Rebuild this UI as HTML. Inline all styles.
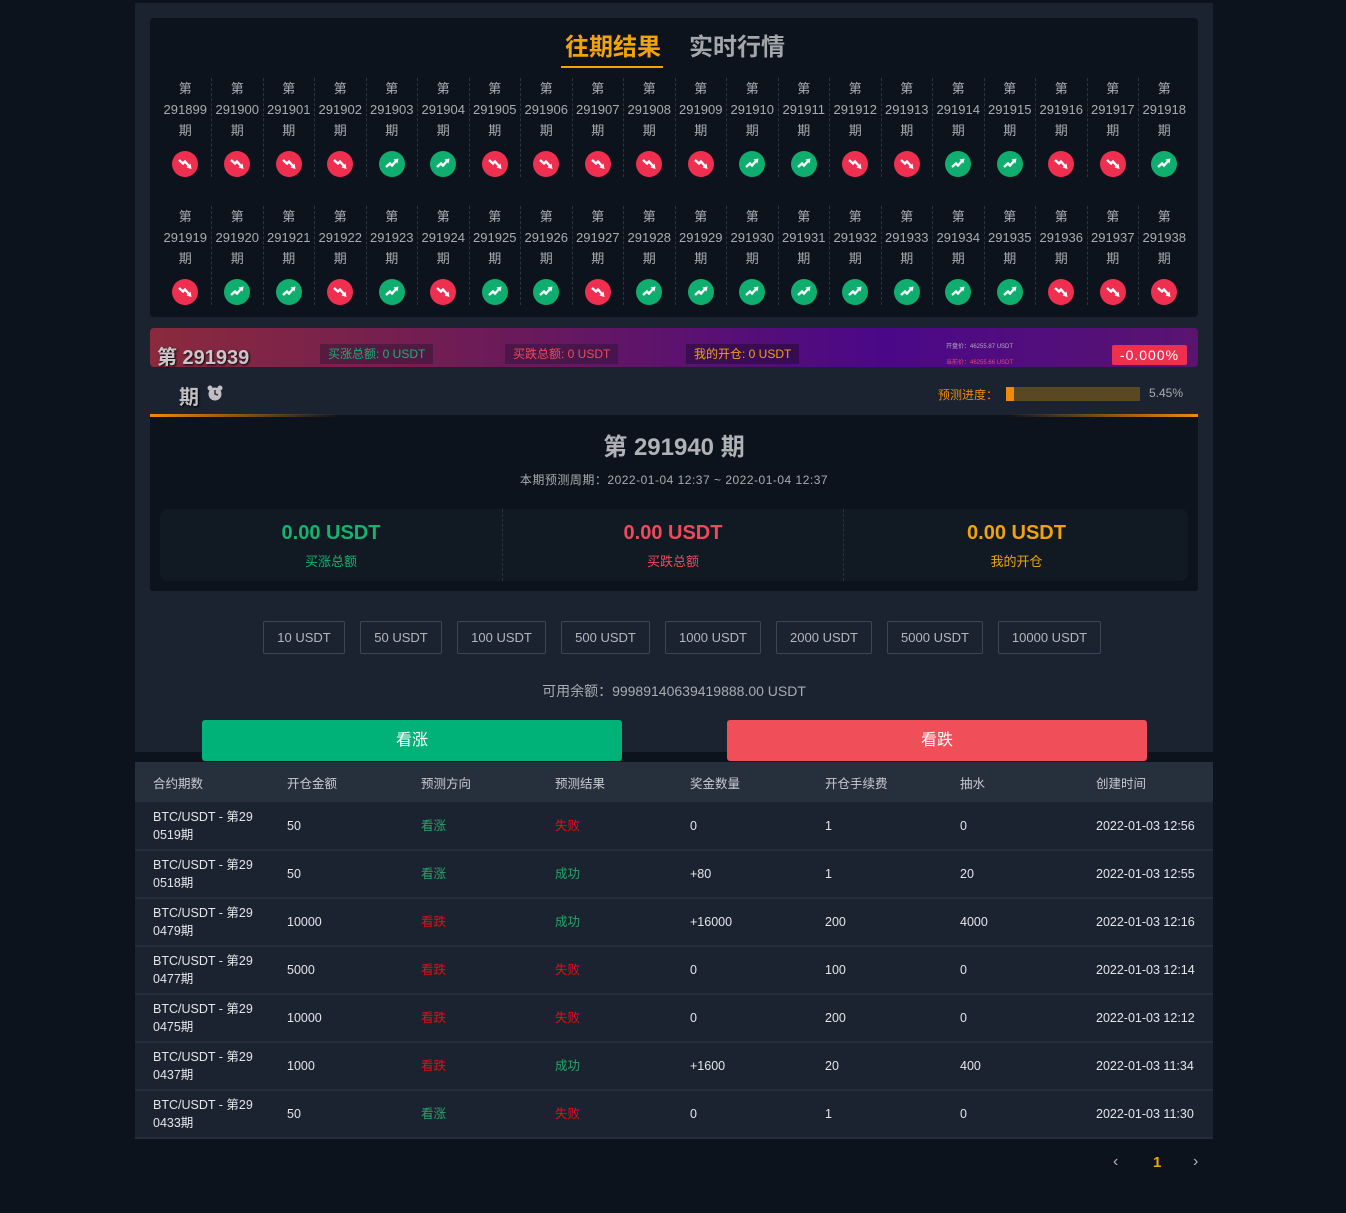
<!DOCTYPE html>
<html><head><meta charset="utf-8">
<style>
*{margin:0;padding:0;box-sizing:border-box}
body{width:1346px;height:1213px;background:#0c131d;font-family:"Liberation Sans","Noto Sans CJK SC",sans-serif;position:relative;overflow:hidden;color:#ccc}
.a{position:absolute}
#wrap{left:135px;top:3px;width:1078px;height:749px;background:#1b2330}
#top{left:150px;top:18px;width:1048px;height:299px;background:#0c131d;border-radius:4px}
.row{position:absolute;left:159.5px;display:flex}
.col{width:51.5px;text-align:center;font-size:13px;line-height:21px;color:#a8acb2;position:relative}
.col+.col{border-left:1px dashed #2d3540}
.col .ic{display:block;margin:10px auto 0;width:26px;height:26px}
.btn{position:absolute;top:621px;height:33px;border:1px solid #3c4656;border-radius:2px;color:#b4b8be;font-size:13px;line-height:31px;text-align:center}
table{position:absolute;left:135px;top:762px;width:1078px;border-collapse:collapse;font-size:12.5px;color:#e4e6ea}
th{height:40px;background:#262f3c;font-weight:normal;text-align:left;color:#c8ccd2;padding-left:18px}
td{height:48px;background:#1b2330;border-bottom:2px solid #242d39;padding-left:18px;line-height:18px}
.g{color:#26a66a}.r{color:#e0101a}
</style></head><body>
<svg width="0" height="0" style="position:absolute">
<symbol id="dn" viewBox="0 0 26 26"><circle cx="13" cy="13" r="13" fill="#ef2f4f"/><polyline points="7,9 11,12.5 13,10.5 17,15" fill="none" stroke="#fff" stroke-width="2.4"/><polygon points="14.5,16.5 19.5,18 18.5,12.5" fill="#fff"/></symbol>
<symbol id="up" viewBox="0 0 26 26"><circle cx="13" cy="13" r="13" fill="#0fae6e"/><polyline points="7,16 11,12.5 13,14.5 17,10" fill="none" stroke="#fff" stroke-width="2.4"/><polygon points="14.5,8.5 19.5,7.5 18.5,12.5" fill="#fff"/></symbol>
</svg>
<div id="wrap" class="a"></div>
<div id="top" class="a"></div>
<div class="a" style="left:565px;top:27px;font-size:24px;font-weight:bold;color:#f0a30a">往期结果</div>
<div class="a" style="left:561px;top:66px;width:102px;height:2px;background:#f0a30a"></div>
<div class="a" style="left:689px;top:27px;font-size:24px;font-weight:bold;color:#a4a6aa">实时行情</div>

<div class="row" style="top:78px">
<div class="col">第<br>291899<br>期<svg class="ic"><use href="#dn"/></svg></div>
<div class="col">第<br>291900<br>期<svg class="ic"><use href="#dn"/></svg></div>
<div class="col">第<br>291901<br>期<svg class="ic"><use href="#dn"/></svg></div>
<div class="col">第<br>291902<br>期<svg class="ic"><use href="#dn"/></svg></div>
<div class="col">第<br>291903<br>期<svg class="ic"><use href="#up"/></svg></div>
<div class="col">第<br>291904<br>期<svg class="ic"><use href="#up"/></svg></div>
<div class="col">第<br>291905<br>期<svg class="ic"><use href="#dn"/></svg></div>
<div class="col">第<br>291906<br>期<svg class="ic"><use href="#dn"/></svg></div>
<div class="col">第<br>291907<br>期<svg class="ic"><use href="#dn"/></svg></div>
<div class="col">第<br>291908<br>期<svg class="ic"><use href="#dn"/></svg></div>
<div class="col">第<br>291909<br>期<svg class="ic"><use href="#dn"/></svg></div>
<div class="col">第<br>291910<br>期<svg class="ic"><use href="#up"/></svg></div>
<div class="col">第<br>291911<br>期<svg class="ic"><use href="#up"/></svg></div>
<div class="col">第<br>291912<br>期<svg class="ic"><use href="#dn"/></svg></div>
<div class="col">第<br>291913<br>期<svg class="ic"><use href="#dn"/></svg></div>
<div class="col">第<br>291914<br>期<svg class="ic"><use href="#up"/></svg></div>
<div class="col">第<br>291915<br>期<svg class="ic"><use href="#up"/></svg></div>
<div class="col">第<br>291916<br>期<svg class="ic"><use href="#dn"/></svg></div>
<div class="col">第<br>291917<br>期<svg class="ic"><use href="#dn"/></svg></div>
<div class="col">第<br>291918<br>期<svg class="ic"><use href="#up"/></svg></div>
</div>
<div class="row" style="top:206px">
<div class="col">第<br>291919<br>期<svg class="ic"><use href="#dn"/></svg></div>
<div class="col">第<br>291920<br>期<svg class="ic"><use href="#up"/></svg></div>
<div class="col">第<br>291921<br>期<svg class="ic"><use href="#up"/></svg></div>
<div class="col">第<br>291922<br>期<svg class="ic"><use href="#dn"/></svg></div>
<div class="col">第<br>291923<br>期<svg class="ic"><use href="#up"/></svg></div>
<div class="col">第<br>291924<br>期<svg class="ic"><use href="#dn"/></svg></div>
<div class="col">第<br>291925<br>期<svg class="ic"><use href="#up"/></svg></div>
<div class="col">第<br>291926<br>期<svg class="ic"><use href="#up"/></svg></div>
<div class="col">第<br>291927<br>期<svg class="ic"><use href="#dn"/></svg></div>
<div class="col">第<br>291928<br>期<svg class="ic"><use href="#up"/></svg></div>
<div class="col">第<br>291929<br>期<svg class="ic"><use href="#up"/></svg></div>
<div class="col">第<br>291930<br>期<svg class="ic"><use href="#up"/></svg></div>
<div class="col">第<br>291931<br>期<svg class="ic"><use href="#up"/></svg></div>
<div class="col">第<br>291932<br>期<svg class="ic"><use href="#up"/></svg></div>
<div class="col">第<br>291933<br>期<svg class="ic"><use href="#up"/></svg></div>
<div class="col">第<br>291934<br>期<svg class="ic"><use href="#up"/></svg></div>
<div class="col">第<br>291935<br>期<svg class="ic"><use href="#up"/></svg></div>
<div class="col">第<br>291936<br>期<svg class="ic"><use href="#dn"/></svg></div>
<div class="col">第<br>291937<br>期<svg class="ic"><use href="#dn"/></svg></div>
<div class="col">第<br>291938<br>期<svg class="ic"><use href="#dn"/></svg></div>
</div>

<div class="a" style="left:150px;top:328px;width:1048px;height:39px;border-radius:4px;background:linear-gradient(90deg,#8a2a3c 0%,#6a1a5a 35%,#4a0888 70%,#5a1470 100%)"></div>
<div class="a" style="left:157px;top:341px;font-size:20px;font-weight:bold;color:#c8c8cc;text-shadow:1px 1px 2px #000">第 291939</div>
<div class="a" style="left:320px;top:344px;padding:0 8px;height:20px;line-height:20px;font-size:12px;color:#14b36e;background:rgba(40,20,50,.45)">买涨总额: 0 USDT</div>
<div class="a" style="left:505px;top:344px;padding:0 8px;height:20px;line-height:20px;font-size:12px;color:#f04a5a;background:rgba(40,20,50,.45)">买跌总额: 0 USDT</div>
<div class="a" style="left:686px;top:344px;padding:0 8px;height:20px;line-height:20px;font-size:12px;color:#f0a30a;background:rgba(30,10,50,.5)">我的开仓: 0 USDT</div>
<div class="a" style="left:946px;top:341px;font-size:6px;color:#b8a8c8">开盘价：46255.87 USDT</div>
<div class="a" style="left:946px;top:357px;font-size:6px;color:#e84a6a">当前价：46255.66 USDT</div>
<div class="a" style="left:1112px;top:345px;width:75px;height:20px;background:#ee3050;border-radius:2px;color:#fff;font-size:14px;line-height:20px;text-align:center;letter-spacing:1px">-0.000%</div>

<div class="a" style="left:179px;top:381px;font-size:20px;font-weight:bold;color:#c0c0c4;text-shadow:1px 1px 2px #000">期</div>
<svg class="a" style="left:206px;top:384px" width="18" height="18" viewBox="0 0 18 18"><circle cx="9" cy="10" r="6.5" fill="#c0c0c4"/><circle cx="4" cy="4" r="2.5" fill="#c0c0c4"/><circle cx="14" cy="4" r="2.5" fill="#c0c0c4"/><polyline points="9,6 9,10 12,11" fill="none" stroke="#333" stroke-width="1.5"/></svg>
<div class="a" style="left:938px;top:386px;font-size:12px;color:#f08a0a">预测进度：</div>
<div class="a" style="left:1006px;top:387px;width:134px;height:14px;background:#5a4822"></div>
<div class="a" style="left:1006px;top:387px;width:8px;height:14px;background:#f08a0a"></div>
<div class="a" style="left:1149px;top:386px;font-size:12px;color:#a8acb2">5.45%</div>

<div class="a" style="left:150px;top:415px;width:1048px;height:176px;background:#0c131d;border-radius:3px"></div>
<div class="a" style="left:150px;top:414px;width:190px;height:3px;background:linear-gradient(90deg,#f08a0a,rgba(240,138,10,0))"></div>
<div class="a" style="left:1008px;top:414px;width:190px;height:3px;background:linear-gradient(270deg,#f08a0a,rgba(240,138,10,0))"></div>
<div class="a" style="left:150px;top:427px;width:1048px;text-align:center;font-size:24px;font-weight:bold;color:#b0b2b6">第 291940 期</div>
<div class="a" style="left:150px;top:471px;width:1048px;text-align:center;font-size:12px;color:#a8acb2;letter-spacing:.5px">本期预测周期：2022-01-04 12:37 ~ 2022-01-04 12:37</div>
<div class="a" style="left:160px;top:509px;width:1028px;height:72px;background:#111923;border-radius:8px"></div>
<div class="a" style="left:502px;top:509px;height:72px;border-left:1px dashed #2a323e"></div>
<div class="a" style="left:843px;top:509px;height:72px;border-left:1px dashed #2a323e"></div>
<div class="a" style="left:160px;top:522px;width:342px;text-align:center;font-size:20px;font-weight:bold;color:#14b36e">0.00 USDT</div>
<div class="a" style="left:160px;top:551px;width:342px;text-align:center;font-size:13px;color:#14b36e">买涨总额</div>
<div class="a" style="left:502px;top:522px;width:342px;text-align:center;font-size:20px;font-weight:bold;color:#f04a5a">0.00 USDT</div>
<div class="a" style="left:502px;top:551px;width:342px;text-align:center;font-size:13px;color:#f04a5a">买跌总额</div>
<div class="a" style="left:845px;top:522px;width:343px;text-align:center;font-size:20px;font-weight:bold;color:#f0a30a">0.00 USDT</div>
<div class="a" style="left:845px;top:551px;width:343px;text-align:center;font-size:13px;color:#f0a30a">我的开仓</div>

<div class="btn" style="left:263px;width:82px">10 USDT</div>
<div class="btn" style="left:360px;width:82px">50 USDT</div>
<div class="btn" style="left:457px;width:89px">100 USDT</div>
<div class="btn" style="left:561px;width:89px">500 USDT</div>
<div class="btn" style="left:665px;width:96px">1000 USDT</div>
<div class="btn" style="left:776px;width:96px">2000 USDT</div>
<div class="btn" style="left:887px;width:96px">5000 USDT</div>
<div class="btn" style="left:998px;width:103px">10000 USDT</div>
<div class="a" style="left:135px;top:681px;width:1078px;text-align:center;font-size:14px;color:#a8acb2">可用余额：99989140639419888.00 USDT</div>
<div class="a" style="left:202px;top:720px;width:420px;height:41px;background:#00b277;border-radius:3px;color:#fff;font-size:16px;line-height:41px;text-align:center">看涨</div>
<div class="a" style="left:727px;top:720px;width:420px;height:41px;background:#f04e58;border-radius:3px;color:#fff;font-size:16px;line-height:41px;text-align:center">看跌</div>

<table>
<tr><th style="width:134px">合约期数</th><th style="width:134px">开仓金额</th><th style="width:134px">预测方向</th><th style="width:135px">预测结果</th><th style="width:135px">奖金数量</th><th style="width:135px">开仓手续费</th><th style="width:136px">抽水</th><th>创建时间</th></tr>
<tr><td>BTC/USDT - 第29<br>0519期</td><td>50</td><td class="g">看涨</td><td class="r">失败</td><td>0</td><td>1</td><td>0</td><td>2022-01-03 12:56</td></tr>
<tr><td>BTC/USDT - 第29<br>0518期</td><td>50</td><td class="g">看涨</td><td class="g">成功</td><td>+80</td><td>1</td><td>20</td><td>2022-01-03 12:55</td></tr>
<tr><td>BTC/USDT - 第29<br>0479期</td><td>10000</td><td class="r">看跌</td><td class="g">成功</td><td>+16000</td><td>200</td><td>4000</td><td>2022-01-03 12:16</td></tr>
<tr><td>BTC/USDT - 第29<br>0477期</td><td>5000</td><td class="r">看跌</td><td class="r">失败</td><td>0</td><td>100</td><td>0</td><td>2022-01-03 12:14</td></tr>
<tr><td>BTC/USDT - 第29<br>0475期</td><td>10000</td><td class="r">看跌</td><td class="r">失败</td><td>0</td><td>200</td><td>0</td><td>2022-01-03 12:12</td></tr>
<tr><td>BTC/USDT - 第29<br>0437期</td><td>1000</td><td class="r">看跌</td><td class="g">成功</td><td>+1600</td><td>20</td><td>400</td><td>2022-01-03 11:34</td></tr>
<tr><td>BTC/USDT - 第29<br>0433期</td><td>50</td><td class="g">看涨</td><td class="r">失败</td><td>0</td><td>1</td><td>0</td><td>2022-01-03 11:30</td></tr>
</table>

<div class="a" style="left:1113px;top:1153px;font-size:16px;color:#b0b4ba">‹</div>
<div class="a" style="left:1153px;top:1154px;font-size:15px;font-weight:bold;color:#f0a30a">1</div>
<div class="a" style="left:1193px;top:1153px;font-size:16px;color:#b0b4ba">›</div>
</body></html>
